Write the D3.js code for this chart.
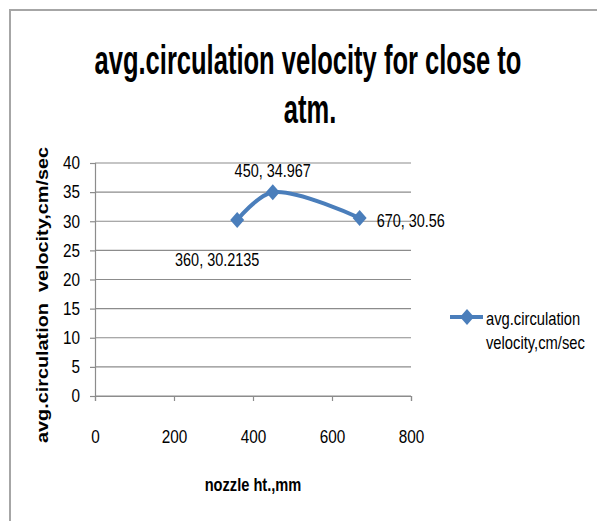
<!DOCTYPE html>
<html>
<head>
<meta charset="utf-8">
<script src="https://cdn.jsdelivr.net/npm/d3@7"></script>
<style>
  body { margin: 0; background: #fff; }
  text { font-family: "Liberation Sans", Arial, sans-serif; }
</style>
</head>
<body>
<div id="chart"></div>
<script>
var xValues = [360, 450, 670];
var yValues = [30.2135, 34.967, 30.56];
var pointLabels = ["360, 30.2135", "450, 34.967", "670, 30.56"];
var xTicks = [0, 200, 400, 600, 800];
var yTicks = [0, 5, 10, 15, 20, 25, 30, 35, 40];
var seriesName = ["avg.circulation", "velocity,cm/sec"];

var W = 597, H = 521;
var margin = { left: 95, right: 186, top: 163, bottom: 125 };
var plotW = W - margin.left - margin.right,
    plotH = H - margin.top - margin.bottom;
var blue = "#4a7ebb";

// squeeze text horizontally, the reference font is narrow
function condense(sel, k) {
    sel.each(function() {
        var w = this.getComputedTextLength();
        d3.select(this).attr("textLength", w * k).attr("lengthAdjust", "spacingAndGlyphs");
    });
}

var svg = d3.select("#chart")
    .append("svg")
    .attr("width", W)
    .attr("height", H);

// chart area border (only top and left visible)
svg.append("rect")
    .attr("x", 10).attr("y", 10)
    .attr("width", W + 20).attr("height", H + 20)
    .attr("fill", "none")
    .attr("stroke", "#a6a6a6")
    .attr("stroke-width", 2);

var data = xValues.map(function(d, i) { return { x: d, y: yValues[i], label: pointLabels[i] }; });

var x = d3.scaleLinear().domain([0, 800]).range([0, plotW]);
var y = d3.scaleLinear().domain([0, 40]).range([plotH, 0]);

var g = svg.append("g")
    .attr("transform", "translate(" + margin.left + "," + margin.top + ")");

// gridlines
g.append("g")
    .selectAll("line")
    .data(yTicks)
    .enter()
    .append("line")
    .attr("x1", 0).attr("x2", plotW)
    .attr("y1", function(d) { return y(d); })
    .attr("y2", function(d) { return y(d); })
    .attr("stroke", "#8c8c8c")
    .attr("stroke-width", 1.2);

// axes
var yAxis = g.append("g")
    .call(d3.axisLeft(y).tickValues(yTicks).tickSize(5).tickPadding(10));
var xAxis = g.append("g")
    .attr("transform", "translate(0," + plotH + ")")
    .call(d3.axisBottom(x).tickValues(xTicks).tickSize(5).tickPadding(29));

[xAxis, yAxis].forEach(function(a) {
    a.select(".domain").attr("stroke", "#8c8c8c").attr("stroke-width", 1.2);
    a.selectAll(".tick line").attr("stroke", "#8c8c8c").attr("stroke-width", 1.2);
    a.selectAll(".tick text")
        .attr("fill", "#000")
        .style("font-size", "18px")
        .style("font-family", "\"Liberation Sans\", Arial, sans-serif")
        .call(condense, 0.85);
});

// line
g.append("path")
    .datum(data)
    .attr("fill", "none")
    .attr("stroke", blue)
    .attr("stroke-width", 4)
    .attr("stroke-linejoin", "round")
    .attr("d", d3.line()
        .x(function(d) { return x(d.x); })
        .y(function(d) { return y(d.y); })
        .curve(d3.curveCatmullRom.alpha(0.5)));

// markers: Excel-style diamond
var diamondType = {
    draw: function(ctx, size) {
        var hw = 7, hh = 8;
        ctx.moveTo(0, -hh); ctx.lineTo(hw, 0); ctx.lineTo(0, hh); ctx.lineTo(-hw, 0); ctx.closePath();
    }
};
var diamond = d3.symbol().type(diamondType);
g.append("g")
    .selectAll("path")
    .data(data)
    .enter()
    .append("path")
    .attr("d", diamond)
    .attr("transform", function(d) { return "translate(" + x(d.x) + "," + y(d.y) + ")"; })
    .attr("fill", blue);

// data labels
var labelPos = [
    { dx: -20, dy: 46, anchor: "middle" },
    { dx: 0, dy: -15, anchor: "middle" },
    { dx: 17, dy: 9, anchor: "start" }
];
g.append("g")
    .selectAll("text")
    .data(data)
    .enter()
    .append("text")
    .attr("x", function(d, i) { return x(d.x) + labelPos[i].dx; })
    .attr("y", function(d, i) { return y(d.y) + labelPos[i].dy; })
    .attr("text-anchor", function(d, i) { return labelPos[i].anchor; })
    .style("font-size", "19px")
    .attr("fill", "#000")
    .text(function(d) { return d.label; })
    .call(condense, 0.76);

// title, scaled horizontally to the reference width
var t1 = svg.append("text")
    .attr("text-anchor", "middle")
    .style("font-size", "40px")
    .style("font-weight", "bold")
    .text("avg.circulation velocity for close to");
var k = 427 / t1.node().getComputedTextLength();
t1.attr("transform", "translate(308,74) scale(" + k + ",1)");
svg.append("text")
    .attr("transform", "translate(310,123) scale(" + k + ",1)")
    .attr("text-anchor", "middle")
    .style("font-size", "40px")
    .style("font-weight", "bold")
    .text("atm.");

// axis titles
svg.append("text")
    .attr("x", margin.left + plotW / 2)
    .attr("y", 491)
    .attr("text-anchor", "middle")
    .style("font-size", "19px")
    .style("font-weight", "bold")
    .text("nozzle ht.,mm")
    .call(condense, 0.77);

var yt = svg.append("text")
    .attr("transform", "translate(48,295) rotate(-90)")
    .attr("text-anchor", "middle")
    .style("font-size", "17px")
    .style("font-weight", "bold")
    .style("white-space", "pre")
    .text("avg.circulation  velocity,cm/sec");
yt.attr("textLength", 296).attr("lengthAdjust", "spacingAndGlyphs");

// legend
var lg = svg.append("g").attr("transform", "translate(450,317)");
lg.append("line")
    .attr("x1", 0).attr("x2", 33)
    .attr("stroke", blue).attr("stroke-width", 4);
lg.append("path")
    .attr("d", diamond)
    .attr("transform", "translate(17,0)")
    .attr("fill", blue);
lg.selectAll("text.leg")
    .data(seriesName)
    .enter()
    .append("text")
    .attr("transform", function(d, i) { return "translate(36," + (8 + i * 24) + ") scale(0.82,1)"; })
    .style("font-size", "18px")
    .text(function(d) { return d; });
</script>
</body>
</html>
